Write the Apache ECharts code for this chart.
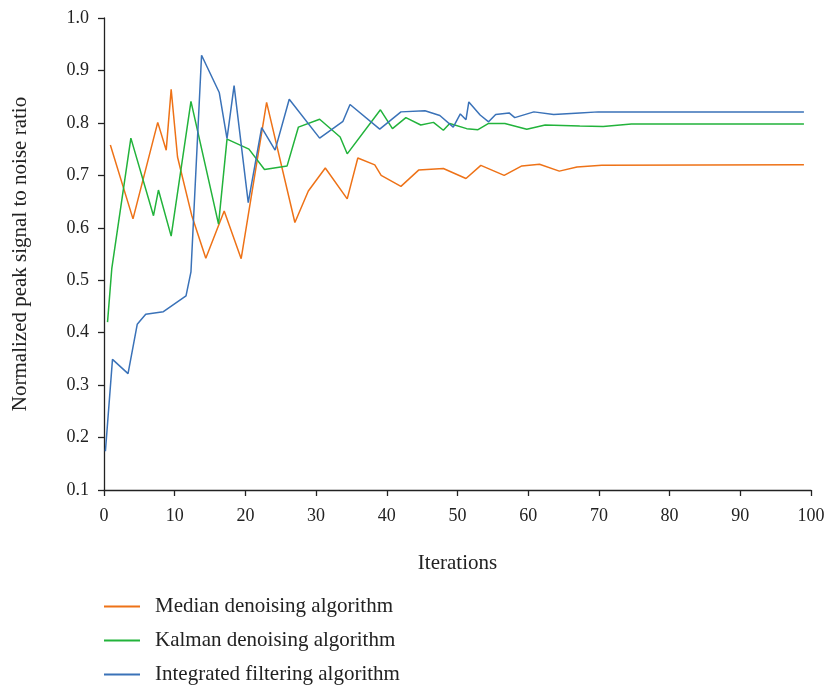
<!DOCTYPE html>
<html>
<head>
<meta charset="utf-8">
<script src="https://cdn.jsdelivr.net/npm/echarts@6/dist/echarts.min.js"></script>
<style>html,body{margin:0;padding:0;background:#fff}#c{width:831px;height:688px}</style>
</head>
<body>
<div id="c"></div>
<script>
const seriesNames = ['Median denoising algorithm', 'Kalman denoising algorithm', 'Integrated filtering algorithm'];
const xTicks = [0, 10, 20, 30, 40, 50, 60, 70, 80, 90, 100];
const yTicks = [0.1, 0.2, 0.3, 0.4, 0.5, 0.6, 0.7, 0.8, 0.9, 1.0];

const medianX = [0.9, 4.1, 7.6, 8.8, 9.5, 10.4, 12.4, 14.4, 17.0, 19.4, 23.0, 27.0, 28.9, 31.3, 34.4, 35.9, 38.3, 39.2, 42.0, 44.5, 48.0, 51.2, 53.3, 56.6, 59.1, 61.6, 64.4, 66.9, 70.4, 99];
const medianY = [0.758, 0.617, 0.801, 0.748, 0.864, 0.735, 0.624, 0.542, 0.632, 0.541, 0.839, 0.610, 0.670, 0.714, 0.655, 0.733, 0.720, 0.700, 0.679, 0.710, 0.713, 0.694, 0.719, 0.700, 0.718, 0.721, 0.708, 0.716, 0.719, 0.720];

const kalmanX = [0.5, 1.1, 3.8, 7.0, 7.7, 9.5, 12.3, 16.2, 17.4, 20.5, 22.7, 25.9, 27.5, 30.5, 33.4, 34.4, 39.1, 40.8, 42.7, 44.8, 46.6, 48.0, 48.9, 51.3, 52.9, 54.4, 56.7, 59.8, 62.4, 67.3, 70.6, 74.6, 99];
const kalmanY = [0.420, 0.522, 0.771, 0.623, 0.672, 0.584, 0.841, 0.607, 0.769, 0.750, 0.711, 0.718, 0.792, 0.807, 0.773, 0.741, 0.825, 0.789, 0.810, 0.796, 0.801, 0.786, 0.799, 0.789, 0.787, 0.799, 0.799, 0.788, 0.796, 0.794, 0.793, 0.798, 0.798];

const integratedX = [0.2, 1.2, 3.4, 4.7, 5.9, 8.4, 11.6, 12.3, 13.8, 16.3, 17.4, 18.4, 20.4, 22.3, 24.2, 26.2, 30.5, 33.8, 34.8, 39.0, 42.0, 45.4, 47.5, 49.4, 50.4, 51.2, 51.6, 53.2, 54.4, 55.4, 57.3, 58.1, 60.8, 63.6, 67.3, 69.9, 99];
const integratedY = [0.174, 0.349, 0.322, 0.416, 0.435, 0.440, 0.470, 0.516, 0.929, 0.858, 0.770, 0.871, 0.648, 0.791, 0.748, 0.845, 0.771, 0.803, 0.835, 0.788, 0.821, 0.823, 0.814, 0.792, 0.817, 0.806, 0.840, 0.815, 0.802, 0.816, 0.819, 0.810, 0.821, 0.816, 0.819, 0.821, 0.821];

const colors = ['#EE7217', '#22B33B', '#3A72B8'];
const pairs = (xs, ys) => xs.map((x, i) => [x, ys[i]]);
const font = '"Liberation Serif", "DejaVu Serif", serif';

const chart = echarts.init(document.getElementById('c'), null, {renderer: 'canvas'});
chart.setOption({
  animation: false,
  backgroundColor: '#fff',
  textStyle: {fontFamily: font},
  grid: {left: 104, right: 20, top: 18, bottom: 198, containLabel: false},
  legend: {
    orient: 'vertical', left: 99, top: 591, height: 97, itemWidth: 36, itemHeight: 2, itemGap: 13,
    icon: 'rect',
    textStyle: {fontFamily: font, fontSize: 21, color: '#222', padding: [0, 0, 0, 10]},
    data: seriesNames
  },
  xAxis: {
    type: 'value', min: xTicks[0], max: xTicks[xTicks.length - 1], interval: 10,
    name: 'Iterations', nameLocation: 'middle', nameGap: 63,
    nameTextStyle: {fontFamily: font, fontSize: 21, color: '#222'},
    axisLine: {show: true, lineStyle: {color: '#222', width: 1.3}},
    axisTick: {show: true, length: 6, lineStyle: {color: '#222', width: 1.3}},
    axisLabel: {fontFamily: font, fontSize: 18, color: '#222', margin: 17},
    splitLine: {show: false}
  },
  yAxis: {
    type: 'value', min: yTicks[0], max: yTicks[yTicks.length - 1], interval: 0.1,
    name: 'Normalized peak signal to noise ratio', nameLocation: 'middle', nameGap: 73,
    nameRotate: 90,
    nameTextStyle: {fontFamily: font, fontSize: 21, color: '#222'},
    axisLine: {show: true, lineStyle: {color: '#222', width: 1.3}},
    axisTick: {show: true, length: 6, lineStyle: {color: '#222', width: 1.3}},
    axisLabel: {fontFamily: font, fontSize: 18, color: '#222', margin: 15,
      formatter: v => (Math.round(v * 10) / 10).toFixed(1)},
    splitLine: {show: false}
  },
  series: [
    {name: seriesNames[0], type: 'line', data: pairs(medianX, medianY), showSymbol: false, symbol: 'none',
     lineStyle: {color: colors[0], width: 1.5}, itemStyle: {color: colors[0]}},
    {name: seriesNames[1], type: 'line', data: pairs(kalmanX, kalmanY), showSymbol: false, symbol: 'none',
     lineStyle: {color: colors[1], width: 1.5}, itemStyle: {color: colors[1]}},
    {name: seriesNames[2], type: 'line', data: pairs(integratedX, integratedY), showSymbol: false, symbol: 'none',
     lineStyle: {color: colors[2], width: 1.5}, itemStyle: {color: colors[2]}}
  ]
});
</script>
</body>
</html>
